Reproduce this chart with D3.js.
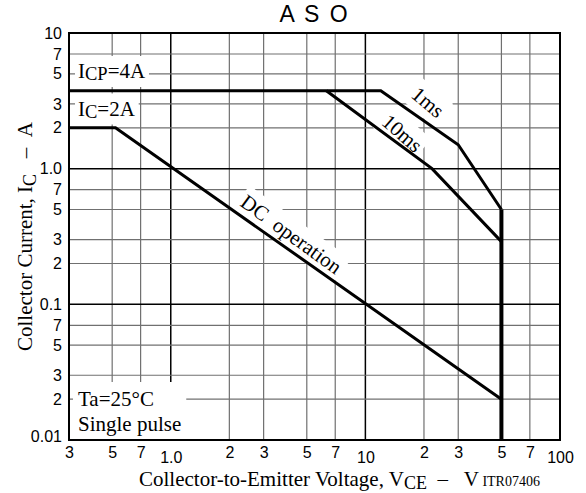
<!DOCTYPE html>
<html>
<head>
<meta charset="utf-8">
<script src="https://cdn.jsdelivr.net/npm/d3@7"></script>
<style>
  body { margin: 0; background: #fff; }
  svg { display: block; }
</style>
</head>
<body>
<script>
// tick values / labels
const xTicks = [0.3, 0.5, 0.7, 1, 2, 3, 5, 7, 10, 20, 30, 50, 70, 100];
const xTickLabels = ["3", "5", "7", "1.0", "2", "3", "5", "7", "10", "2", "3", "5", "7", "100"];
const yTicks = [0.01, 0.02, 0.03, 0.05, 0.07, 0.1, 0.2, 0.3, 0.5, 0.7, 1, 2, 3, 5, 7, 10];
const yTickLabels = ["0.01", "2", "3", "5", "7", "0.1", "2", "3", "5", "7", "1.0", "2", "3", "5", "7", "10"];
const decades = [0.01, 0.1, 1, 10, 100];

// safe operating area curves [VCE (V), IC (A)]
const dcOperation = [[0.3, 2], [0.52, 2], [50, 0.02]];
const pulse1ms = [[0.3, 3.75], [12, 3.75], [30, 1.5], [50, 0.5]];
const pulse10ms = [[6.3, 3.75], [22, 1.0], [50, 0.29]];
const vceLimit = [[50, 0.5], [50, 0.01]];

// curve labels, placed in data units
const curveLabels = [
  {text: "1ms", x: 21, y: 3.1, angle: 40},
  {text: "10ms", x: 15.5, y: 1.83, angle: 41},
  {text: "DC\u00a0\u00a0operation", x: 4.17, y: 0.33, angle: 36}
];

const width = 586, height = 493;
const margin = {top: 33, right: 26, bottom: 53, left: 69};
const serif = "'Liberation Serif', 'Times New Roman', serif";
const sans = "'Liberation Sans', Arial, sans-serif";

const x = d3.scaleLog([0.3, 100], [margin.left, width - margin.right]);
const y = d3.scaleLog([0.01, 10], [height - margin.bottom, margin.top]);

const svg = d3.select("body").append("svg")
    .attr("width", width)
    .attr("height", height)
    .attr("viewBox", [0, 0, width, height]);

const isDecade = v => decades.some(d => Math.abs(d - v) < 1e-9);

// grid
const grid = svg.append("g");
grid.selectAll("line.v")
  .data(xTicks.slice(1, -1))
  .join("line")
    .attr("x1", d => x(d)).attr("x2", d => x(d))
    .attr("y1", y(10)).attr("y2", y(0.01))
    .attr("stroke", d => isDecade(d) ? "#000" : "#707070")
    .attr("stroke-width", d => isDecade(d) ? 1.5 : 1.2);
grid.selectAll("line.h")
  .data(yTicks.slice(1, -1))
  .join("line")
    .attr("y1", d => y(d)).attr("y2", d => y(d))
    .attr("x1", x(0.3)).attr("x2", x(100))
    .attr("stroke", d => isDecade(d) ? "#000" : "#707070")
    .attr("stroke-width", d => isDecade(d) ? 1.5 : 1.2);

// white boxes behind labels go here (filled later)
const boxes = svg.append("g");

// curves
const line = d3.line().x(d => x(d[0])).y(d => y(d[1]));
const curves = svg.append("g")
    .attr("fill", "none")
    .attr("stroke", "#000")
    .attr("stroke-linejoin", "miter");
[dcOperation, pulse1ms, pulse10ms].forEach(c => {
  curves.append("path").attr("d", line(c)).attr("stroke-width", 3);
});
curves.append("path").attr("d", line(vceLimit)).attr("stroke-width", 4);

// frame
svg.append("rect")
    .attr("x", x(0.3)).attr("y", y(10))
    .attr("width", x(100) - x(0.3)).attr("height", y(0.01) - y(10))
    .attr("fill", "none").attr("stroke", "#000").attr("stroke-width", 2);

const labels = svg.append("g")
    .attr("font-family", serif)
    .attr("font-size", 21)
    .attr("fill", "#000");

function boxBehind(node, transform, pad) {
  const b = node.getBBox();
  boxes.append("rect")
      .attr("transform", transform)
      .attr("x", b.x - pad).attr("y", b.y - pad)
      .attr("width", b.width + 2 * pad).attr("height", b.height + 2 * pad)
      .attr("fill", "#fff");
}

// ICP / IC labels
const icp = labels.append("text").attr("x", 78).attr("y", 78);
icp.append("tspan").text("I");
icp.append("tspan").attr("font-size", 18.5).attr("dy", 2).text("CP");
icp.append("tspan").attr("dy", -2).text("=4A");
boxBehind(icp.node(), null, 3);

const ic = labels.append("text").attr("x", 78).attr("y", 115.5);
ic.append("tspan").text("I");
ic.append("tspan").attr("font-size", 18.5).attr("dy", 2).text("C");
ic.append("tspan").attr("dy", -2).text("=2A");
boxBehind(ic.node(), null, 3);

// conditions
const cond = labels.append("text").attr("x", 78).attr("y", 406);
cond.append("tspan").attr("x", 78).text("Ta=25°C");
cond.append("tspan").attr("x", 78).attr("dy", 25).text("Single pulse");
boxBehind(cond.node(), null, 5);

// rotated curve labels
curveLabels.forEach(l => {
  const t = `translate(${x(l.x)},${y(l.y)}) rotate(${l.angle})`;
  const txt = labels.append("text")
      .attr("transform", t)
      .attr("text-anchor", "middle")
      .attr("dy", "0.35em")
      .text(l.text);
  boxBehind(txt.node(), t, 3);
});

// axes
const xAxis = svg.append("g")
    .attr("transform", `translate(0,${y(0.01)})`)
    .call(d3.axisBottom(x).tickValues(xTicks).tickFormat((d, i) => xTickLabels[i]).tickSize(0).tickPadding(7));
xAxis.select(".domain").remove();
xAxis.selectAll("text")
    .attr("font-family", sans).attr("font-size", 16).attr("fill", "#000")
    .attr("dy", d => isDecade(d) ? "1.0em" : "0.71em");

const yAxis = svg.append("g")
    .attr("transform", `translate(${x(0.3)},0)`)
    .call(d3.axisLeft(y).tickValues(yTicks).tickFormat((d, i) => yTickLabels[i]).tickSize(0).tickPadding(7));
yAxis.select(".domain").remove();
yAxis.selectAll("text")
    .attr("font-family", sans).attr("font-size", 16).attr("fill", "#000")
    .attr("dy", d => d === 0.01 ? "0.1em" : "0.32em");

// title
svg.append("text")
    .attr("x", (x(0.3) + x(100)) / 2).attr("y", 22)
    .attr("text-anchor", "middle")
    .attr("font-family", sans).attr("font-size", 23)
    .attr("letter-spacing", 2)
    .text("A S O");

// axis titles
const xt = svg.append("text")
    .attr("x", 139).attr("y", 486)
    .attr("font-family", serif).attr("font-size", 21);
xt.append("tspan").text("Collector-to-Emitter Voltage, V");
xt.append("tspan").attr("font-size", 18).attr("dy", 3).text("CE");
xt.append("tspan").attr("dy", -3).text("\u00a0\u00a0–\u00a0\u00a0\u00a0V");
xt.append("tspan").attr("font-size", 14).text("\u00a0ITR07406");

const yt = svg.append("text")
    .attr("transform", "translate(32,351) rotate(-90)")
    .attr("font-family", serif).attr("font-size", 21);
yt.append("tspan").text("Collector Current, I");
yt.append("tspan").attr("font-size", 18).attr("dy", 4).text("C");
yt.append("tspan").attr("dy", -4).text("\u00a0\u00a0\u00a0–\u00a0\u00a0A");
</script>
</body>
</html>
